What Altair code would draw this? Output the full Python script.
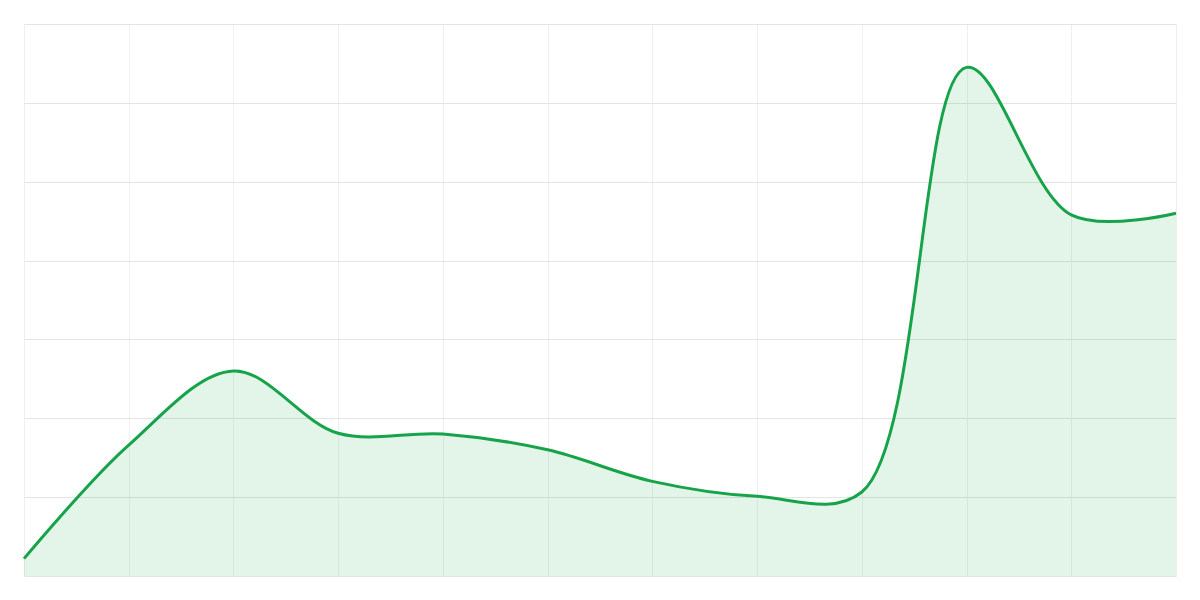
import altair as alt
import pandas as pd

idx = list(range(12))
values = [2.2, 16.6, 26.0, 18.1, 18.0, 16.0, 12.0, 10.1, 10.65, 64.5, 45.8, 46.0]

df = pd.DataFrame({"i": idx, "v": values})

x = alt.X("i:Q", scale=alt.Scale(domain=[0, 11], nice=False, zero=False),
          axis=alt.Axis(values=idx, labels=False, ticks=False, domain=False, title=None,
                        gridColor="#efefef", gridWidth=1))
y = alt.Y("v:Q", scale=alt.Scale(domain=[0, 70], nice=False),
          axis=alt.Axis(values=[0, 10, 20, 30, 40, 50, 60, 70], labels=False, ticks=False,
                        domain=False, title=None, gridColor="#e4e4e4", gridWidth=1))

base = alt.Chart(df)
area = base.mark_area(interpolate="catmull-rom", color="#16a34a", opacity=0.12).encode(x=x, y=y)
line = base.mark_line(interpolate="catmull-rom", color="#16a34a", strokeWidth=3).encode(x=x, y=y)

chart = (area + line).properties(
    width=1152, height=552,
    autosize=alt.AutoSizeParams(type="none"),
    padding={"left": 16, "top": 16, "right": 16, "bottom": 16},
).configure_view(stroke=None)

chart.save("out.html", embed_options={"renderer": "svg", "actions": False})
